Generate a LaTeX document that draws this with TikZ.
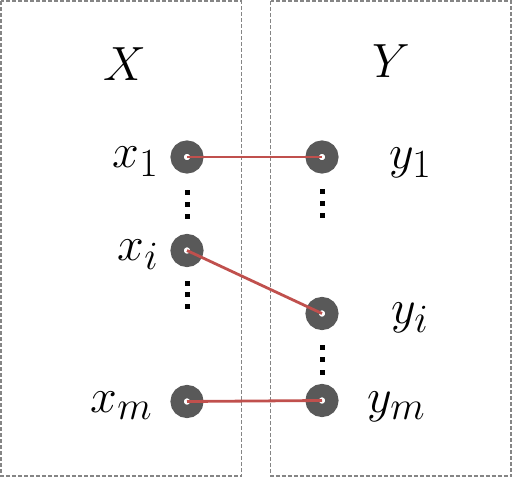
\documentclass[tikz,border=0pt]{standalone}

\definecolor{dotgray}{HTML}{595959}
\definecolor{boxgray}{HTML}{858585}
\definecolor{linkred}{HTML}{C0504D}

\begin{document}
\begin{tikzpicture}[x=1pt, y=-1pt,
  vertex/.style={circle, draw=dotgray, line width=13.2pt, fill=white, minimum size=19.8pt, inner sep=0pt},
  setbox/.style={draw=boxgray, line width=1.8pt, dash pattern=on 4pt off 2pt},
  link/.style={draw=linkred, line width=2.8pt},
  lbl/.style={font=\Huge, scale=1.93, inner sep=0pt}]

\useasboundingbox (0,0) rectangle (512,477);

\draw[setbox] (1,1) rectangle (241.5,476);

\draw[setbox] (270.5,1) rectangle (511,476);

\draw (103,80) node[lbl, anchor=base west] (X) {$X$};

\draw (372,77) node[lbl, anchor=base west] (Y) {$Y$};


\draw (187,157) node[vertex] (x1) {};

\draw (187,250.5) node[vertex] (xi) {};

\draw (187,401.5) node[vertex] (xm) {};

\draw (322,157) node[vertex] (y1) {};

\draw (322,313.5) node[vertex] (yi) {};

\draw (322,400.5) node[vertex] (ym) {};


\draw (159,167) node[lbl, anchor=base east] (lx1) {$x_1$};

\draw (159,260) node[lbl, anchor=base east] (lxi) {$x_i$};

\draw (153,412) node[lbl, anchor=base east] (lxm) {$x_m$};

\draw (389,168) node[lbl, anchor=base west] (ly1) {$y_1$};

\draw (391,323) node[lbl, anchor=base west] (lyi) {$y_i$};

\draw (367,412) node[lbl, anchor=base west] (lym) {$y_m$};


\foreach \yy in {192,204,216,283,294,306}
  \fill (184.5,\yy-2.5) rectangle (189.5,\yy+2.5);

\foreach \yy in {191,203,215,347,359,372}
  \fill (319.5,\yy-2.5) rectangle (324.5,\yy+2.5);


\draw[link] (x1.center) -- (y1.center);

\draw[link] (xi.center) -- (yi.center);

\draw[link] (xm.center) -- (ym.center);

\end{tikzpicture}
\end{document}
